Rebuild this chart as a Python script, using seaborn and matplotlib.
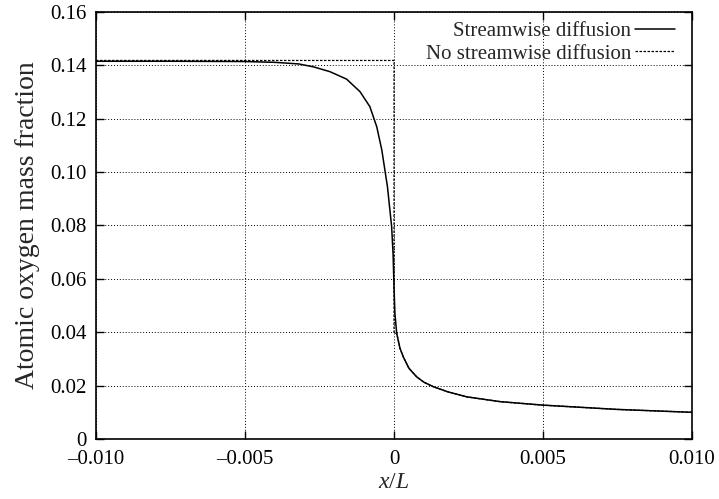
import numpy as np
import pandas as pd
import seaborn as sns
import matplotlib
matplotlib.use('Agg')
import matplotlib.pyplot as plt
from matplotlib.ticker import FuncFormatter

# values
x_diff = [-0.0100, -0.0075, -0.0050, -0.0040, -0.0032, -0.0027, -0.00215, -0.00159,
          -0.00114, -0.00081, -0.00058, -0.00041, -0.00022, -0.00008, -0.00003, 0.0,
          0.00003, 0.00009, 0.0002, 0.00031, 0.0005, 0.00076, 0.0010, 0.00132,
          0.0018, 0.00244, 0.00356, 0.00499, 0.00747, 0.0100]
y_diff = [0.1415, 0.1415, 0.1414, 0.1411, 0.1405, 0.1394, 0.1376, 0.1348,
          0.1301, 0.1245, 0.1170, 0.1083, 0.0945, 0.0796, 0.0690, 0.0570,
          0.0470, 0.0396, 0.0340, 0.0308, 0.0265, 0.0233, 0.0213, 0.0196,
          0.0177, 0.0158, 0.0140, 0.0127, 0.0111, 0.0100]

x_nodiff = [-0.0100, 0.0, 0.0, 0.00009, 0.0002, 0.00031, 0.0005, 0.00076, 0.0010,
            0.00132, 0.0018, 0.00244, 0.00356, 0.00499, 0.00747, 0.0100]
y_nodiff = [0.1418, 0.1418, 0.0396, 0.0396, 0.0340, 0.0308, 0.0265, 0.0233, 0.0213,
            0.0196, 0.0177, 0.0158, 0.0140, 0.0127, 0.0111, 0.0100]

df_diff = pd.DataFrame({'x': x_diff, 'y': y_diff})
df_nodiff = pd.DataFrame({'x': x_nodiff, 'y': y_nodiff})

sns.set_style('ticks')
plt.rcParams['font.family'] = ['Liberation Serif', 'DejaVu Serif']
plt.rcParams['mathtext.fontset'] = 'custom'
plt.rcParams['mathtext.it'] = 'Liberation Serif:italic'
plt.rcParams['mathtext.rm'] = 'Liberation Serif'

fig = plt.figure(figsize=(7.19, 4.99), dpi=100)
ax = fig.add_axes([0.1335, 0.1202, 0.829, 0.856])

sns.lineplot(data=df_diff, x='x', y='y', ax=ax, color='black', lw=1.1,
             sort=False, estimator=None, label='Streamwise diffusion')
sns.lineplot(data=df_nodiff, x='x', y='y', ax=ax, color='black', lw=0.9,
             sort=False, estimator=None, linestyle=(0, (2, 1.2)),
             label='No streamwise diffusion')

ax.set_xlim(-0.010, 0.010)
ax.set_ylim(0, 0.16)
ax.set_xticks([-0.010, -0.005, 0, 0.005, 0.010])
ax.set_yticks(np.arange(0, 0.161, 0.02))


def fmt_x(v, pos):
    if abs(v) < 1e-12:
        return '0'
    return ('%.3f' % v).replace('-', '\u2013')


def fmt_y(v, pos):
    if abs(v) < 1e-12:
        return '0'
    return '%.2f' % v


ax.xaxis.set_major_formatter(FuncFormatter(fmt_x))
ax.yaxis.set_major_formatter(FuncFormatter(fmt_y))
ax.tick_params(direction='in', length=6, width=1, labelsize=15, colors='black',
               top=True, right=True)
ax.tick_params(axis='y', pad=7)
ax.tick_params(axis='x', pad=8)
ax.grid(True, color='black', linestyle=(0, (1, 2)), linewidth=0.7)
for s in ax.spines.values():
    s.set_linewidth(1.2)
    s.set_color('black')

ax.set_xlabel('$x/L$', fontsize=17, labelpad=2)
ax.set_ylabel('Atomic oxygen mass fraction', fontsize=20, labelpad=7)

ax.legend(loc='upper right', frameon=False, markerfirst=False, fontsize=15,
          handlelength=1.9, handletextpad=0.2, labelspacing=0.15,
          borderaxespad=0.0, bbox_to_anchor=(0.985, 0.997))

fig.savefig('out.png', dpi=100)
